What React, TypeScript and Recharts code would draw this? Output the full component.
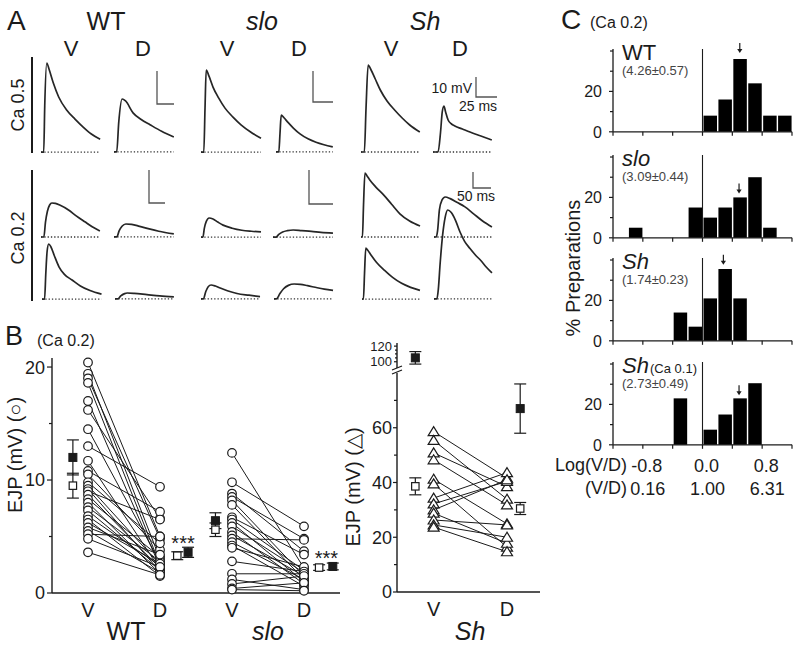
import React from 'react';
import {
  ComposedChart, LineChart, Line, XAxis, YAxis, Scatter, ErrorBar,
  ReferenceLine, ReferenceDot, Bar,
} from 'recharts';

const FONT = '"Liberation Sans", Arial, Helvetica, sans-serif';
const INK = '#1b1b1b';

/* ================= Panel A : EJP traces (t in ms, v in mV) ================= */
// Ca 0.5
const wtV05T = [0, 4, 5.5, 8.5, 12, 18, 26, 38, 50, 62, 74, 87];
const wtV05V = [0, 0, 14, 27, 25, 21, 16.7, 12.7, 10, 7.6, 5.5, 3.9];
const wtD05T = [0, 4, 7, 12, 17, 28, 40, 53, 70, 88];
const wtD05V = [0, 0, 9, 16, 15.4, 11.8, 9.8, 8.2, 6.2, 4.5];
const sloV05T = [0, 3.5, 5, 6.5, 10, 15, 22, 30, 40, 50, 62, 75];
const sloV05V = [0, 0, 14, 26.5, 24.5, 21, 17.5, 14.2, 11.3, 8.8, 6.5, 4.5];
const sloD05T = [0, 3.5, 5, 6.5, 10, 15, 22, 30, 40, 50, 60, 71];
const sloD05V = [0, 0, 6, 11.9, 11, 9.5, 7.6, 5.8, 4.2, 3.1, 2.3, 1.6];
const shV05T = [0, 4, 6, 8.5, 12, 17, 23, 31, 40, 49, 58, 70];
const shV05V = [0, 0, 22, 43.5, 41, 36.5, 31, 25.5, 21, 17, 13.5, 10];
const shD05T = [0, 6, 9, 11, 13, 15, 18, 22, 26, 35, 44, 57, 70];
const shD05V = [0, 0, 10, 20, 23, 20, 16, 14, 13, 11.5, 10, 8, 6];
// Ca 0.2, first preparation
const wtV02aT = [0, 9, 14, 20, 27, 34, 45, 60, 86, 110, 137, 160, 184];
const wtV02aV = [0, 0, 4.5, 7.8, 9.7, 10.3, 10.2, 9.6, 8.2, 6.4, 4.6, 3.1, 1.8];
const wtD02aT = [0, 9, 16, 25, 37, 55, 80, 110, 140, 187];
const wtD02aV = [0, 0, 1.8, 3.2, 3.9, 3.8, 3.2, 2.4, 1.7, 0.9];
const sloV02aT = [0, 4, 7, 11, 17, 25, 35, 46, 65, 85, 105, 125];
const sloV02aV = [0, 0, 2.6, 4.6, 5.6, 5.3, 4.4, 3.5, 2.6, 2, 1.7, 1.5];
const sloD02aT = [0, 6, 12, 20, 30, 42, 60, 80, 100, 125];
const sloD02aV = [0, 0, 0.8, 1.5, 1.9, 2.1, 1.9, 1.7, 1.4, 1.2];
const shV02aT = [0, 4, 7, 11, 16, 25, 40, 64, 85, 108, 135, 164];
const shV02aV = [0, 0, 20, 40, 38.5, 35.5, 31.5, 26, 20.5, 14.5, 10, 6.9];
const shD02aT = [0, 6, 10, 15, 22, 31, 45, 65, 85, 110, 135, 161];
const shD02aV = [0, 0, 4, 17, 23, 25, 24, 21.5, 19, 14.5, 10, 6.3];
// Ca 0.2, second preparation
const wtV02bT = [0, 8, 12, 16, 21, 28, 38, 53, 70, 94, 120, 150, 186];
const wtV02bV = [0, 0, 8, 14.5, 16.7, 15.8, 13.3, 9.8, 7.5, 5.8, 4, 2.6, 1.5];
const wtD02bT = [0, 9, 18, 30, 38, 60, 100, 140, 184];
const wtD02bV = [0, 0, 0.9, 1.6, 1.8, 1.7, 1.3, 0.9, 0.6];
const sloV02bT = [0, 5, 10, 15, 21, 30, 40, 55, 75, 100, 123];
const sloV02bV = [0, 0, 2.2, 3.6, 4.1, 3.8, 3.2, 2.4, 1.6, 1.1, 0.7];
const sloD02bT = [0, 5, 12, 20, 30, 42, 55, 70, 90, 105, 123];
const sloD02bV = [0, 0, 1.5, 3, 4, 4.4, 4.3, 3.9, 3.3, 2.9, 2.5];
const shV02bT = [0, 4, 7, 10.5, 16, 25, 40, 62, 85, 110, 135, 161];
const shV02bV = [0, 0, 16, 31.9, 30.5, 27.5, 23, 18, 13.5, 9.8, 7.3, 5.4];
const shD02bT = [0, 8, 12, 17, 24, 31, 38, 48, 60, 72, 85, 100, 115, 130, 145, 161];
const shD02bV = [0, 0, 6, 22, 40, 51, 55.6, 54, 49, 42, 36, 31.5, 27.5, 24, 20, 16.3];
// scale bars
const bar25T = [0, 0, 25];
const bar50T = [0, 0, 50];
const bar10V = [10, 0, 0];

/* ================= Panel B ================= */
const bTickLabels = ['V', 'D', 'V', 'D'];
const wtV = [20.4, 19.4, 19.0, 18.6, 17.0, 16.2, 14.5, 13.0, 11.7, 10.8, 10.5, 9.8, 9.5, 9.2, 9.0, 8.7, 8.3, 8.0, 7.6, 7.3, 6.8, 6.5, 6.2, 5.8, 5.5, 5.2, 4.8, 3.6];
const wtD = [5.0, 3.0, 4.8, 2.5, 2.3, 6.6, 2.7, 9.4, 2.1, 7.2, 3.8, 4.4, 2.5, 1.9, 6.5, 2.2, 3.2, 1.7, 2.8, 2.0, 2.4, 1.5, 2.6, 3.4, 1.8, 5.0, 2.3, 1.6];
const sloV = [12.4, 9.8, 8.8, 8.5, 8.2, 7.8, 6.7, 6.5, 6.2, 5.9, 5.4, 5.1, 4.8, 4.5, 4.2, 4.0, 2.8, 1.7, 1.2, 0.8, 0.4, 0.3];
const sloD = [2.2, 5.9, 3.7, 4.8, 1.5, 1.2, 3.4, 2.0, 1.0, 1.8, 0.8, 1.5, 4.7, 1.2, 0.6, 2.3, 1.9, 1.7, 0.3, 1.5, 0.9, 0.2];
const shV = [58.6, 55.4, 50.8, 48.3, 41.2, 39.5, 34.3, 32.2, 30.0, 28.8, 26.3, 24.5, 23.7];
const shD = [41.6, 33.9, 38.5, 31.8, 24.9, 16.4, 43.6, 40.4, 41.0, 17.8, 24.5, 20.0, 14.7];

const wtOpenX = [0.79, 2.24]; const wtOpenY = [9.5, 3.3]; const wtOpenE = [1.1, 0.35];
const wtFillX = [0.79, 2.39]; const wtFillY = [12.0, 3.6]; const wtFillE = [1.55, 0.45];
const sloOpenX = [2.77, 4.21]; const sloOpenY = [5.6, 2.25]; const sloOpenE = [0.6, 0.25];
const sloFillX = [2.77, 4.4]; const sloFillY = [6.4, 2.35]; const sloFillE = [0.7, 0.3];
const shOpenX = [0.75, 2.18]; const shOpenY = [38.6, 30.5]; const shOpenE = [3.1, 2.2];
const shFillX = [2.18]; const shFillY = [67]; const shFillE = [9];
const shFillTopX = [0.75]; const shFillTopY = [105]; const shFillTopE = [8];

/* ================= Panel C ================= */
const binCenters = [-1.1, -0.9, -0.7, -0.5, -0.3, -0.1, 0.1, 0.3, 0.5, 0.7, 0.9, 1.1];
const pctWT = [0, 0, 0, 0, 0, 0, 8, 16, 36, 24, 8, 8];
const pctSlo = [0, 5, 0, 0, 0, 15, 10, 15, 20, 30, 5, 0];
const pctSh = [0, 0, 0, 0, 14, 7, 21, 35.5, 21, 0, 0, 0];
const pctSh01 = [0, 0, 0, 0, 23, 0, 7.5, 15, 23, 30.5, 0, 0];
const meanArrowX = [0.5, 0.49, 0.28, 0.49];
const meanArrowTip = [39, 22, 37.6, 24.5];
const histNames = ['WT', 'slo', 'Sh', 'Sh'];
const histStats = ['(4.26±0.57)', '(3.09±0.44)', '(1.74±0.23)', '(2.73±0.49)'];
const cXTicks = [-1.2, -0.8, -0.4, 0, 0.4, 0.8, 1.2];
const logTickPos = [-0.8, 0, 0.8];
const logTickText = ['-0.8', '0.0', '0.8'];
const ratioTickText = ['0.16', '1.00', '6.31'];

/* ================= helpers ================= */
type TraceProps = {
  t: number[]; v: number[]; left: number; base: number; ms: number; mv: number;
  dotted?: boolean; stroke?: string; sw?: number; curve?: 'monotone' | 'linear';
};
function Trace({ t, v, left, base, ms, mv, dotted = true, stroke = '#262626', sw = 1.7, curve = 'monotone' }: TraceProps) {
  const pad = 3;
  const tEnd = Math.max(...t);
  const vHi = Math.max(...v) + pad / mv;
  const vLo = Math.min(0, ...v) - pad / mv;
  const w = tEnd * ms + 2 * pad;
  const h = (vHi - vLo) * mv;
  const data = t.map((x, i) => ({ t: x, v: v[i] }));
  return (
    <div style={{ position: 'absolute', left: left - pad, top: base - vHi * mv, width: w, height: h }}>
      <LineChart width={w} height={h} data={data} margin={{ top: 0, right: 0, bottom: 0, left: 0 }}>
        <XAxis type="number" dataKey="t" domain={[-pad / ms, tEnd + pad / ms]} hide />
        <YAxis type="number" domain={[vLo, vHi]} hide />
        {dotted && (
          <ReferenceLine segment={[{ x: 0, y: 0 }, { x: tEnd, y: 0 }]} stroke="#333" strokeWidth={1.3} strokeDasharray="1.3 2" />
        )}
        <Line dataKey="v" type={curve} dot={false} stroke={stroke} strokeWidth={sw} isAnimationActive={false} />
      </LineChart>
    </div>
  );
}

function makeYTick(labeled: number[], major: number, minor: number, gap: number, fontSize: number) {
  return (props: any) => {
    const { x, y, payload } = props;
    const val = payload.value;
    const isMajor = labeled.includes(val);
    return (
      <g>
        <line x1={x - (isMajor ? major : minor)} x2={x} y1={y} y2={y} stroke={INK} strokeWidth={1.2} />
        {isMajor && (
          <text x={x - gap} y={y} dy="0.36em" textAnchor="end" fontSize={fontSize} fontFamily={FONT} fill={INK}>{val}</text>
        )}
      </g>
    );
  };
}

const OpenCircle = (p: any) => <circle cx={p.cx} cy={p.cy} r={4.3} fill="#fff" stroke={INK} strokeWidth={1.2} />;
const OpenTriangle = (p: any) => (
  <polygon points={`${p.cx},${p.cy - 5} ${p.cx - 5.5},${p.cy + 4} ${p.cx + 5.5},${p.cy + 4}`} fill="#fff" stroke={INK} strokeWidth={1.2} />
);
const FilledSquare = (p: any) => <rect x={p.cx - 4} y={p.cy - 4} width={8} height={8} fill={INK} stroke={INK} />;
const OpenSquare = (p: any) => <rect x={p.cx - 3.7} y={p.cy - 3.7} width={7.4} height={7.4} fill="#fff" stroke={INK} strokeWidth={1.2} />;
const Nothing = () => <g />;
const Arrow = (p: any) => (
  <g>
    <line x1={p.cx} x2={p.cx} y1={p.cy - 10} y2={p.cy - 3} stroke={INK} strokeWidth={1.2} />
    <polygon points={`${p.cx - 2.6},${p.cy - 4} ${p.cx + 2.6},${p.cy - 4} ${p.cx},${p.cy}`} fill={INK} />
  </g>
);

const pts = (xs: number[], ys: number[], es?: number[]) => xs.map((x, i) => ({ x, y: ys[i], e: es ? es[i] : 0 }));
const col = (x: number, ys: number[]) => ys.map((y) => ({ x, y }));

const yTickB = makeYTick([0, 10, 20], 5, 3, 7, 18);
const yTickSh = makeYTick([0, 20, 40, 60], 4, 3, 5, 18);
const yTickShTop = makeYTick([100, 120], 3, 2, 5, 13);
const yTickC = makeYTick([0, 20], 4, 3, 11, 16);

function renderMeans(data: any[], shape: any, key: string) {
  return [
    <Scatter key={key + 'e'} data={data} shape={Nothing} isAnimationActive={false}>
      <ErrorBar dataKey="e" direction="y" width={6} stroke={INK} strokeWidth={1.2} />
    </Scatter>,
    <Scatter key={key + 's'} data={data} shape={shape} isAnimationActive={false} />,
  ];
}

function PanelBLeft() {
  const lines = [
    ...wtV.map((v, i) => [{ x: 1, y: v }, { x: 2, y: wtD[i] }]),
    ...sloV.map((v, i) => [{ x: 3, y: v }, { x: 4, y: sloD[i] }]),
  ];
  const circles = [...col(1, wtV), ...col(2, wtD), ...col(3, sloV), ...col(4, sloD)];
  return (
    <div style={{ position: 'absolute', left: 0, top: 340, width: 350, height: 310 }}>
      <ComposedChart width={350} height={310} margin={{ top: 18, right: 10, bottom: 27, left: 12 }}>
        <XAxis type="number" dataKey="x" domain={[0.5, 4.5]} ticks={[1, 2, 3, 4]} interval={0}
          tickFormatter={(v: number) => bTickLabels[Math.round(v) - 1]} tickLine={false} tickMargin={4}
          axisLine={{ stroke: INK, strokeWidth: 1.4 }} height={30}
          tick={{ fontSize: 20, fill: INK, fontFamily: FONT }} />
        <YAxis type="number" dataKey="y" domain={[0, 20.8]} ticks={[0, 5, 10, 15, 20]} interval={0} width={40}
          tickLine={false} tickSize={0} tickMargin={0} tick={yTickB} axisLine={{ stroke: INK, strokeWidth: 1.4 }} />
        {lines.map((d, i) => (
          <Line key={'l' + i} data={d} dataKey="y" stroke={INK} strokeWidth={1} dot={false} isAnimationActive={false} />
        ))}
        <Scatter data={circles} shape={OpenCircle} isAnimationActive={false} />
        {renderMeans(pts(wtOpenX, wtOpenY, wtOpenE), OpenSquare, 'wo')}
        {renderMeans(pts(wtFillX, wtFillY, wtFillE), FilledSquare, 'wf')}
        {renderMeans(pts(sloOpenX, sloOpenY, sloOpenE), OpenSquare, 'so')}
        {renderMeans(pts(sloFillX, sloFillY, sloFillE), FilledSquare, 'sf')}
        <ReferenceDot x={2.32} y={4.45} r={0} fill="none" stroke="none"
          label={{ value: '***', position: 'center', fontSize: 20, fill: INK, fontFamily: FONT }} />
        <ReferenceDot x={4.31} y={3.1} r={0} fill="none" stroke="none"
          label={{ value: '***', position: 'center', fontSize: 20, fill: INK, fontFamily: FONT }} />
      </ComposedChart>
    </div>
  );
}

function PanelBSh() {
  const lines = shV.map((v, i) => [{ x: 1, y: v }, { x: 2, y: shD[i] }]);
  const tris = [...col(1, shV), ...col(2, shD)];
  return (
    <>
      <div style={{ position: 'absolute', left: 350, top: 335, width: 200, height: 33 }}>
        <ComposedChart width={200} height={33} margin={{ top: 8, right: 10, bottom: 0, left: 7 }}>
          <XAxis type="number" dataKey="x" domain={[0.5, 2.45]} hide />
          <YAxis type="number" dataKey="y" domain={[92, 124]} ticks={[100, 105, 110, 115, 120]} interval={0} width={40}
            tickLine={false} tickSize={0} tickMargin={0} tick={yTickShTop} axisLine={{ stroke: INK, strokeWidth: 1.4 }} />
          {renderMeans(pts(shFillTopX, shFillTopY, shFillTopE), FilledSquare, 'ht')}
        </ComposedChart>
      </div>
      <div style={{ position: 'absolute', left: 350, top: 340, width: 200, height: 310 }}>
        <ComposedChart width={200} height={310} margin={{ top: 33, right: 10, bottom: 28, left: 7 }}>
          <XAxis type="number" dataKey="x" domain={[0.5, 2.45]} ticks={[1, 2]} interval={0}
            tickFormatter={(v: number) => bTickLabels[Math.round(v) - 1]} tickLine={false} tickMargin={4}
            axisLine={{ stroke: INK, strokeWidth: 1.4 }} height={30}
            tick={{ fontSize: 20, fill: INK, fontFamily: FONT }} />
          <YAxis type="number" dataKey="y" domain={[0, 80]} ticks={[0, 10, 20, 30, 40, 50, 60, 70]} interval={0} width={40}
            tickLine={false} tickSize={0} tickMargin={0} tick={yTickSh} axisLine={{ stroke: INK, strokeWidth: 1.4 }} />
          {lines.map((d, i) => (
            <Line key={'t' + i} data={d} dataKey="y" stroke={INK} strokeWidth={1} dot={false} isAnimationActive={false} />
          ))}
          <Scatter data={tris} shape={OpenTriangle} isAnimationActive={false} />
          {renderMeans(pts(shOpenX, shOpenY, shOpenE), OpenSquare, 'ho')}
          {renderMeans(pts(shFillX, shFillY, shFillE), FilledSquare, 'hf')}
        </ComposedChart>
      </div>
    </>
  );
}

const EmptyTick = () => <g />;
const BottomTick = (props: any) => {
  const { x, y, payload } = props;
  const idx = logTickPos.findIndex((p) => Math.abs(p - payload.value) < 1e-6);
  if (idx < 0) return <g />;
  return (
    <g fontFamily={FONT} fill={INK} fontSize={18}>
      <text x={x + 4} y={y + 14.5} dy="0.36em" textAnchor="middle">{logTickText[idx]}</text>
      <text x={x + 5} y={y + 37.5} dy="0.36em" textAnchor="middle">{ratioTickText[idx]}</text>
    </g>
  );
};

const PX_PCT = 2.02;
function Hist({ base, ys, arrowX, arrowTip, last }: { base: number; ys: number[]; arrowX: number; arrowTip: number; last?: boolean }) {
  const plotH = 41 * PX_PCT;
  const mTop = 14;
  const axisH = last ? 56 : 12;
  const H = mTop + plotH + axisH;
  const data = binCenters.map((x, i) => ({ x, y: ys[i] }));
  return (
    <div style={{ position: 'absolute', left: 560, top: base - plotH - mTop, width: 240, height: H }}>
      <ComposedChart width={240} height={H} data={data} margin={{ top: mTop, right: 8, bottom: 0, left: 8 }}>
        <XAxis type="number" dataKey="x" domain={[-1.2, 1.2]} ticks={cXTicks} interval={0} height={axisH}
          tickSize={4} tickMargin={2} tickLine={{ stroke: INK, strokeWidth: 1.2 }} axisLine={{ stroke: INK, strokeWidth: 1.3 }}
          tick={last ? BottomTick : EmptyTick} />
        <YAxis type="number" dataKey="y" domain={[0, 41]} ticks={[0, 10, 20, 30, 40]} interval={0} width={45}
          tickLine={false} tickSize={0} tickMargin={0} tick={yTickC} axisLine={{ stroke: INK, strokeWidth: 1.3 }} />
        <ReferenceLine x={0} stroke={INK} strokeWidth={1.1} />
        <Bar dataKey="y" fill="#000" barSize={13.5} isAnimationActive={false} />
        <ReferenceDot x={arrowX} y={arrowTip} shape={Arrow} ifOverflow="visible" />
      </ComposedChart>
    </div>
  );
}

function Overlay() {
  const aColX = [71, 143, 227, 299, 391, 460];
  const aCol = ['V', 'D', 'V', 'D', 'V', 'D'];
  const cBase = [132, 237.5, 341, 444.5];
  return (
    <svg width={800} height={649} style={{ position: 'absolute', left: 0, top: 0, pointerEvents: 'none' }} fontFamily={FONT} fill={INK}>
      {/* Panel A */}
      <text x={7} y={30} fontSize={28}>A</text>
      <text x={106} y={30} fontSize={25} textAnchor="middle">WT</text>
      <text x={262} y={30} fontSize={25} textAnchor="middle" fontStyle="italic">slo</text>
      <text x={425} y={30} fontSize={25} textAnchor="middle" fontStyle="italic">Sh</text>
      {aCol.map((c, i) => (
        <text key={i} x={aColX[i]} y={56} fontSize={22} textAnchor="middle">{c}</text>
      ))}
      <text transform="translate(24,105) rotate(-90)" fontSize={18} textAnchor="middle">Ca 0.5</text>
      <text transform="translate(24,238) rotate(-90)" fontSize={18} textAnchor="middle">Ca 0.2</text>
      <line x1={32} x2={32} y1={57} y2={153} stroke={INK} strokeWidth={2} />
      <line x1={32} x2={32} y1={170} y2={301} stroke={INK} strokeWidth={2} />
      <text x={472} y={93} fontSize={14} textAnchor="end">10 mV</text>
      <text x={478} y={111} fontSize={14} textAnchor="middle">25 ms</text>
      <text x={476} y={201} fontSize={14} textAnchor="middle">50 ms</text>

      {/* Panel B */}
      <text x={5} y={345} fontSize={27}>B</text>
      <text x={37} y={346} fontSize={16}>(Ca 0.2)</text>
      <text transform="translate(22,455) rotate(-90)" fontSize={20} textAnchor="middle">EJP (mV) (○)</text>
      <text transform="translate(360,487) rotate(-90)" fontSize={20} textAnchor="middle">EJP (mV) (△)</text>
      <text x={126} y={640} fontSize={25} textAnchor="middle">WT</text>
      <text x={268} y={640} fontSize={25} textAnchor="middle" fontStyle="italic">slo</text>
      <text x={470} y={640} fontSize={25} textAnchor="middle" fontStyle="italic">Sh</text>
      <line x1={392} x2={402} y1={370} y2={366} stroke={INK} strokeWidth={1.2} />
      <line x1={392} x2={402} y1={374} y2={370} stroke={INK} strokeWidth={1.2} />

      {/* Panel C */}
      <text x={561} y={29} fontSize={28}>C</text>
      <text x={590} y={28} fontSize={16}>(Ca 0.2)</text>
      {histNames.map((n, i) => (
        <text key={'n' + i} x={622} y={cBase[i] - 72} fontSize={22} fontStyle={i === 0 ? 'normal' : 'italic'}>{n}</text>
      ))}
      <text x={650} y={cBase[3] - 72} fontSize={13}>(Ca 0.1)</text>
      {histStats.map((s, i) => (
        <text key={'s' + i} x={622} y={cBase[i] - 57} fontSize={13} fill="#444">{s}</text>
      ))}
      <text transform="translate(580,268) rotate(-90)" fontSize={20} textAnchor="middle">% Preparations</text>
      <text x={627} y={471} fontSize={18} textAnchor="end">Log(V/D)</text>
      <text x={627} y={494} fontSize={18} textAnchor="end">(V/D)</text>
    </svg>
  );
}

export default function App() {
  const gray = '#555';
  return (
    <div style={{ position: 'absolute', left: 0, top: 0, width: 800, height: 649, background: '#fff', overflow: 'hidden', fontFamily: FONT }}>
      {/* Ca 0.5 */}
      <Trace t={wtV05T} v={wtV05V} left={41} base={152} ms={0.68} mv={3.3} />
      <Trace t={wtD05T} v={wtD05V} left={114} base={152} ms={0.68} mv={3.3} />
      <Trace t={sloV05T} v={sloV05V} left={201} base={152} ms={0.8} mv={3.1} />
      <Trace t={sloD05T} v={sloD05V} left={276} base={152} ms={0.8} mv={3.1} />
      <Trace t={shV05T} v={shV05V} left={361} base={152} ms={0.84} mv={2.0} />
      <Trace t={shD05T} v={shD05V} left={433} base={152} ms={0.84} mv={2.0} />
      {/* Ca 0.2 first */}
      <Trace t={wtV02aT} v={wtV02aV} left={41} base={237} ms={0.32} mv={3.3} />
      <Trace t={wtD02aT} v={wtD02aV} left={114} base={237} ms={0.32} mv={3.3} />
      <Trace t={sloV02aT} v={sloV02aV} left={201} base={237} ms={0.48} mv={3.4} />
      <Trace t={sloD02aT} v={sloD02aV} left={273} base={237} ms={0.48} mv={3.4} />
      <Trace t={shV02aT} v={shV02aV} left={361} base={237} ms={0.36} mv={1.6} />
      <Trace t={shD02aT} v={shD02aV} left={434} base={237} ms={0.36} mv={1.6} />
      {/* Ca 0.2 second */}
      <Trace t={wtV02bT} v={wtV02bV} left={42} base={299} ms={0.32} mv={3.3} />
      <Trace t={wtD02bT} v={wtD02bV} left={115} base={299} ms={0.32} mv={3.3} />
      <Trace t={sloV02bT} v={sloV02bV} left={201} base={299} ms={0.48} mv={3.4} />
      <Trace t={sloD02bT} v={sloD02bV} left={274} base={299} ms={0.48} mv={3.4} />
      <Trace t={shV02bT} v={shV02bV} left={362} base={299} ms={0.36} mv={1.6} />
      <Trace t={shD02bT} v={shD02bV} left={434} base={299} ms={0.36} mv={1.6} />
      {/* scale bars */}
      <Trace t={bar25T} v={bar10V} left={157} base={104} ms={0.68} mv={3.3} dotted={false} stroke={gray} sw={1.3} curve="linear" />
      <Trace t={bar25T} v={bar10V} left={313} base={102} ms={0.8} mv={3.1} dotted={false} stroke={gray} sw={1.3} curve="linear" />
      <Trace t={bar25T} v={bar10V} left={476} base={97} ms={0.84} mv={2.0} dotted={false} stroke={gray} sw={1.3} curve="linear" />
      <Trace t={bar50T} v={bar10V} left={149} base={203} ms={0.32} mv={3.3} dotted={false} stroke={gray} sw={1.3} curve="linear" />
      <Trace t={bar50T} v={bar10V} left={309} base={204} ms={0.48} mv={3.4} dotted={false} stroke={gray} sw={1.3} curve="linear" />
      <Trace t={bar50T} v={bar10V} left={473} base={188} ms={0.36} mv={1.6} dotted={false} stroke={gray} sw={1.3} curve="linear" />

      <PanelBLeft />
      <PanelBSh />

      <Hist base={132} ys={pctWT} arrowX={meanArrowX[0]} arrowTip={meanArrowTip[0]} />
      <Hist base={237.5} ys={pctSlo} arrowX={meanArrowX[1]} arrowTip={meanArrowTip[1]} />
      <Hist base={341} ys={pctSh} arrowX={meanArrowX[2]} arrowTip={meanArrowTip[2]} />
      <Hist base={444.5} ys={pctSh01} arrowX={meanArrowX[3]} arrowTip={meanArrowTip[3]} last />

      <Overlay />
    </div>
  );
}
